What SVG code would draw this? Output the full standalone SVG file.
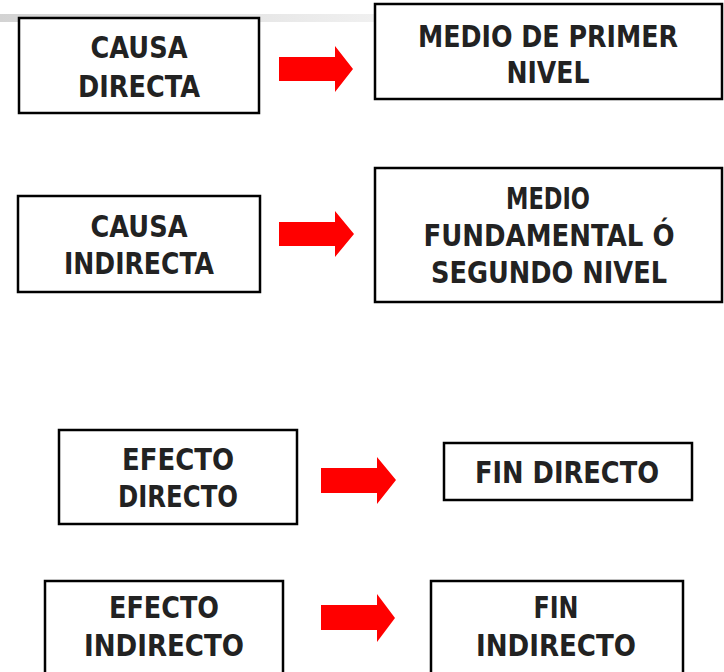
<svg xmlns="http://www.w3.org/2000/svg" width="724" height="672" viewBox="0 0 724 672">
<defs>
<linearGradient id="bar" x1="0" y1="0" x2="1" y2="0">
<stop offset="0" stop-color="#d3d3d3"/>
<stop offset="1" stop-color="#f2f2f2"/>
</linearGradient>
<style>
.box{fill:#fff;stroke:#000;stroke-width:2.5}
.t{font-family:'DejaVu Sans',sans-serif;font-weight:bold;font-size:30px;fill:#222;text-anchor:middle}
.arr{fill:#ff0000}
</style>
</defs>
<rect x="0" y="14" width="400" height="8" fill="url(#bar)"/>
<g id="causa-directa"><rect class="box" x="19" y="18" width="240" height="95"/><text class="t" x="139" y="58" textLength="97" lengthAdjust="spacingAndGlyphs">CAUSA</text><text class="t" x="139" y="97" textLength="122" lengthAdjust="spacingAndGlyphs">DIRECTA</text></g>
<g id="medio-primer"><rect class="box" x="375" y="4" width="347" height="95"/><text class="t" x="548" y="47" textLength="260" lengthAdjust="spacingAndGlyphs">MEDIO DE PRIMER</text><text class="t" x="548" y="83" textLength="83" lengthAdjust="spacingAndGlyphs">NIVEL</text></g>
<g id="causa-indirecta"><rect class="box" x="18" y="196" width="242" height="96"/><text class="t" x="139" y="237" textLength="97" lengthAdjust="spacingAndGlyphs">CAUSA</text><text class="t" x="139" y="274" textLength="150" lengthAdjust="spacingAndGlyphs">INDIRECTA</text></g>
<g id="medio-fundamental"><rect class="box" x="375" y="168" width="347" height="134"/><text class="t" x="548" y="209" textLength="84" lengthAdjust="spacingAndGlyphs">MEDIO</text><text class="t" x="549" y="246" textLength="251" lengthAdjust="spacingAndGlyphs">FUNDAMENTAL Ó</text><text class="t" x="549" y="283" textLength="236" lengthAdjust="spacingAndGlyphs">SEGUNDO NIVEL</text></g>
<g id="efecto-directo"><rect class="box" x="59" y="430" width="238" height="94"/><text class="t" x="178" y="470" textLength="112" lengthAdjust="spacingAndGlyphs">EFECTO</text><text class="t" x="178" y="507" textLength="120" lengthAdjust="spacingAndGlyphs">DIRECTO</text></g>
<g id="fin-directo"><rect class="box" x="444" y="443" width="248" height="57"/><text class="t" x="567" y="483" textLength="184" lengthAdjust="spacingAndGlyphs">FIN DIRECTO</text></g>
<g id="efecto-indirecto"><rect class="box" x="45" y="581" width="238" height="100"/><text class="t" x="164" y="618" textLength="110" lengthAdjust="spacingAndGlyphs">EFECTO</text><text class="t" x="164" y="656" textLength="160" lengthAdjust="spacingAndGlyphs">INDIRECTO</text></g>
<g id="fin-indirecto"><rect class="box" x="431" y="581" width="252" height="100"/><text class="t" x="556" y="618" textLength="45" lengthAdjust="spacingAndGlyphs">FIN</text><text class="t" x="556" y="656" textLength="160" lengthAdjust="spacingAndGlyphs">INDIRECTO</text></g>
<g id="connectors">
<polygon class="arr" points="279,57 335,57 335,46 353,69 335,92 335,81 279,81"/>
<polygon class="arr" points="279,222 335,222 335,211 354,234 335,257 335,246 279,246"/>
<polygon class="arr" points="321,468 377,468 377,457 396,480 377,504 377,493 321,493"/>
<polygon class="arr" points="321,605 377,605 377,594 395,618 377,642 377,630 321,630"/>
</g>
</svg>
